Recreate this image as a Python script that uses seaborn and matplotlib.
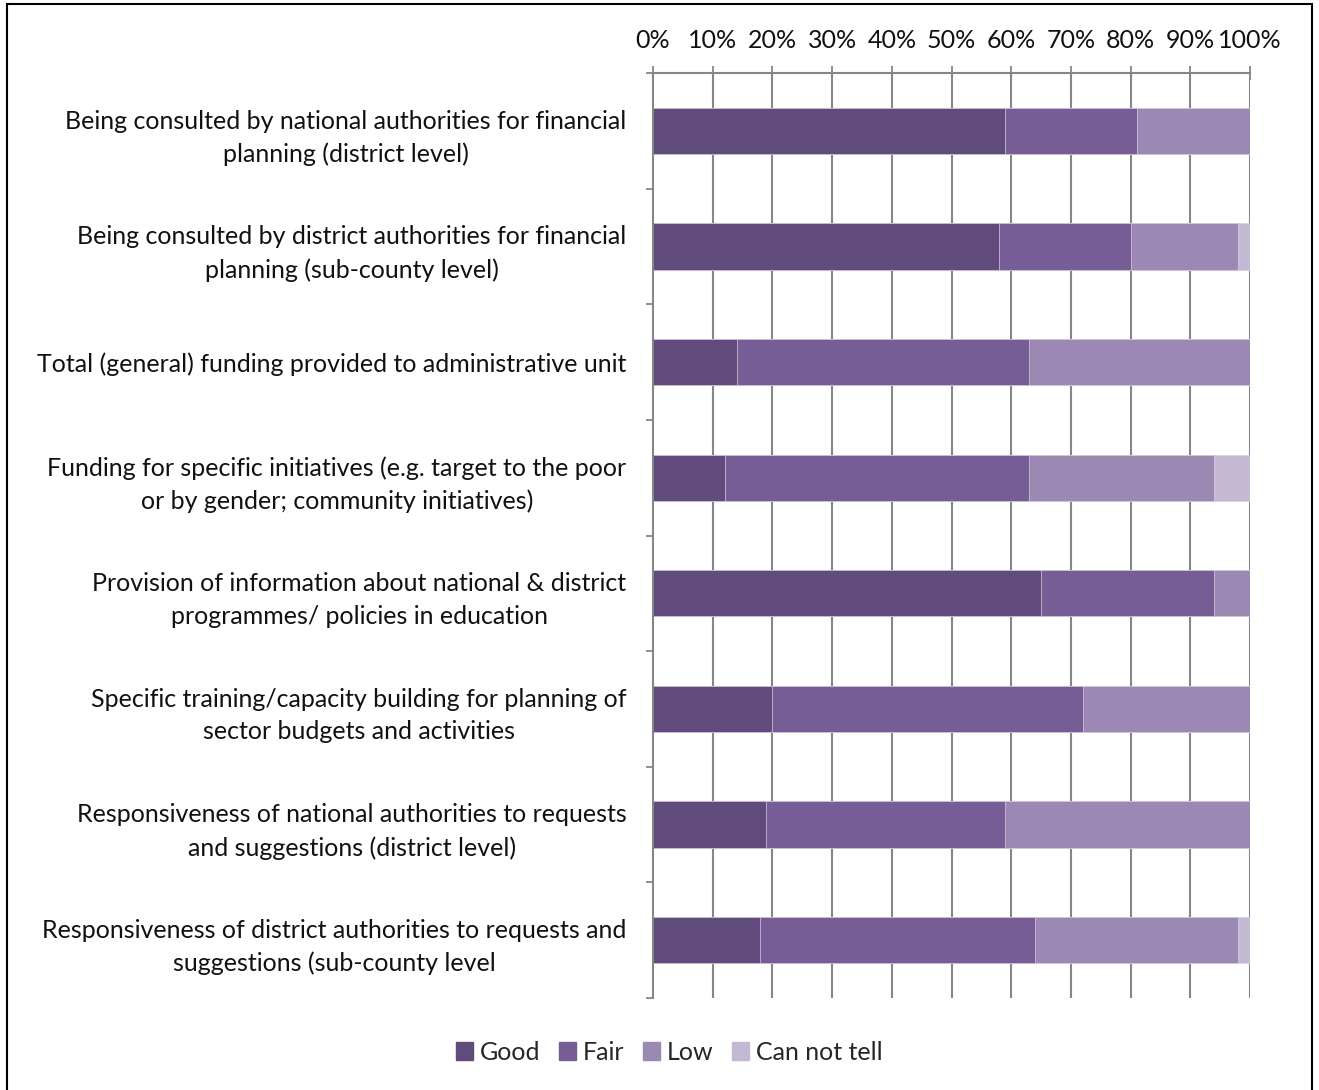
import matplotlib
matplotlib.use("Agg")
import matplotlib.pyplot as plt
import matplotlib.patches as mpatches
import seaborn as sns
import pandas as pd
import numpy as np

categories = [
    "Being consulted by national authorities for financial\nplanning (district level)",
    "Being consulted by district authorities for financial\nplanning (sub-county level)",
    "Total (general) funding provided to administrative unit",
    "Funding for specific initiatives (e.g. target to the poor\nor by gender; community initiatives)",
    "Provision of information about national & district\nprogrammes/ policies in education",
    "Specific training/capacity building for planning of\nsector budgets and activities",
    "Responsiveness of national authorities to requests\nand suggestions (district level)",
    "Responsiveness of district authorities to requests and\nsuggestions (sub-county level",
]
good = [59, 58, 14, 12, 65, 20, 19, 18]
fair = [22, 22, 49, 51, 29, 52, 40, 46]
low = [19, 18, 37, 31, 6, 28, 41, 34]
cannot_tell = [0, 2, 0, 6, 0, 0, 0, 2]

series_names = ["Good", "Fair", "Low", "Can not tell"]
series_values = [good, fair, low, cannot_tell]
colors = ["#614b7c", "#775d96", "#9b89b3", "#c3b9d2"]

ticks_pct = list(range(0, 101, 10))
tick_labels = [f"{t}%" for t in ticks_pct]

FS = 18

sns.set_theme(style="white")
plt.rcParams["font.family"] = ["Lato", "DejaVu Sans"]

fig = plt.figure(figsize=(13.19, 10.90), dpi=100)
ax = fig.add_axes([653 / 1319, 1 - 998 / 1090, 597 / 1319, 925 / 1090])

# cumulative totals, drawn from the outermost segment inward
cum = np.cumsum(np.array(series_values, dtype=float), axis=0)
df = pd.DataFrame({"category": categories})
for i in range(len(series_names) - 1, -1, -1):
    df["value"] = cum[i]
    sns.barplot(data=df, x="value", y="category", orient="h", color=colors[i],
                width=0.4, saturation=1, ax=ax, zorder=3,
                edgecolor="#d8d0e2", linewidth=0.5)

ax.set_xlim(0, 100)
ax.set_ylim(len(categories) - 0.5, -0.5)
ax.set_xlabel("")
ax.set_ylabel("")

# percent axis on top
ax.xaxis.tick_top()
ax.set_xticks(ticks_pct)
ax.set_xticklabels(tick_labels, fontsize=FS, color="#111111")
ax.tick_params(axis="x", direction="inout", length=10, width=1.3,
               color="#868686", pad=10)

# category ticks sit between the bars
ax.set_yticks(np.arange(len(categories)))
ax.set_yticklabels(categories, fontsize=FS, color="#111111")
for lab in ax.get_yticklabels():
    lab.set_multialignment("center")
    lab.set_linespacing(1.5)
ax.tick_params(axis="y", which="major", length=0, pad=19)
ax.set_yticks(np.arange(-0.5, len(categories) + 0.5, 1), minor=True)
ax.tick_params(axis="y", which="minor", direction="out", length=5, width=1.3,
               color="#868686", left=True)

for x in ticks_pct[1:]:
    ax.axvline(x, color="#868686", linewidth=1.5, zorder=1)

for s in ["right", "bottom"]:
    ax.spines[s].set_visible(False)
for s in ["top", "left"]:
    ax.spines[s].set_color("#868686")
    ax.spines[s].set_linewidth(1.5)
    ax.spines[s].set_zorder(4)

handles = [mpatches.Patch(color=c, label=n) for c, n in zip(colors, series_names)]
fig.legend(handles=handles, loc="center", bbox_to_anchor=(669 / 1319, 1 - 1052 / 1090),
           ncol=4, frameon=False, fontsize=FS, handlelength=0.7, handleheight=0.7,
           handletextpad=0.25, columnspacing=0.75)

# outer chart border
fig.add_artist(mpatches.Rectangle((7 / 1319, -0.01), 1305 / 1319, 1 - 4 / 1090 + 0.01,
                                  transform=fig.transFigure, fill=False,
                                  edgecolor="black", linewidth=1.5))

fig.savefig("out.png", dpi=100)
